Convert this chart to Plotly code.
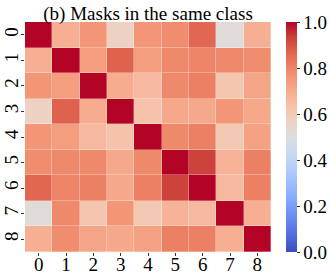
import plotly.graph_objects as go

labels = ["0", "1", "2", "3", "4", "5", "6", "7", "8"]

row0 = [1.00, 0.69, 0.76, 0.57, 0.76, 0.78, 0.86, 0.51, 0.69]
row1 = [0.69, 1.00, 0.74, 0.87, 0.74, 0.79, 0.80, 0.79, 0.78]
row2 = [0.76, 0.74, 1.00, 0.70, 0.66, 0.79, 0.81, 0.62, 0.72]
row3 = [0.57, 0.87, 0.70, 1.00, 0.63, 0.71, 0.71, 0.76, 0.71]
row4 = [0.76, 0.74, 0.66, 0.63, 1.00, 0.79, 0.81, 0.61, 0.73]
row5 = [0.78, 0.79, 0.79, 0.71, 0.79, 1.00, 0.93, 0.68, 0.81]
row6 = [0.86, 0.80, 0.81, 0.71, 0.81, 0.93, 1.00, 0.66, 0.81]
row7 = [0.51, 0.79, 0.62, 0.76, 0.61, 0.68, 0.66, 1.00, 0.69]
row8 = [0.69, 0.78, 0.72, 0.71, 0.73, 0.81, 0.81, 0.69, 1.00]

z = [row0, row1, row2, row3, row4, row5, row6, row7, row8]

cbar_vals = [0, 0.2, 0.4, 0.6, 0.8, 1.0]
cbar_text = ["0.0", "0.2", "0.4", "0.6", "0.8", "1.0"]

coolwarm = [
    [0.0, "rgb(59,76,192)"],
    [0.0625, "rgb(78,104,216)"],
    [0.125, "rgb(98,130,234)"],
    [0.1875, "rgb(119,154,247)"],
    [0.25, "rgb(141,176,254)"],
    [0.3125, "rgb(162,193,255)"],
    [0.375, "rgb(184,208,249)"],
    [0.4375, "rgb(204,217,238)"],
    [0.5, "rgb(221,221,221)"],
    [0.5625, "rgb(236,211,197)"],
    [0.625, "rgb(245,196,173)"],
    [0.6875, "rgb(247,176,148)"],
    [0.75, "rgb(244,154,123)"],
    [0.8125, "rgb(236,127,99)"],
    [0.875, "rgb(222,96,77)"],
    [0.9375, "rgb(203,62,56)"],
    [1.0, "rgb(180,4,38)"],
]

font_family = "Liberation Serif, Times New Roman, serif"

fig = go.Figure(go.Heatmap(
    z=z, x=labels, y=labels,
    colorscale=coolwarm, zmin=0, zmax=1,
    xgap=0.3, ygap=0.3,
    colorbar=dict(
        thickness=11, len=1.0, lenmode="fraction",
        x=1.061, xanchor="left", y=0.5, yanchor="middle",
        outlinewidth=0, xpad=0, ypad=0,
        tickvals=cbar_vals, ticktext=cbar_text,
        ticks="outside", ticklen=3, tickcolor="#333",
        tickfont=dict(family=font_family, size=19, color="black"),
    ),
))

fig.update_layout(
    width=329, height=277,
    margin=dict(l=25, r=58, t=22, b=25, autoexpand=False),
    paper_bgcolor="white", plot_bgcolor="white",
    title=dict(text="(b) Masks in the same class", x=0.45, xanchor="center",
               xref="container", yref="container",
               y=1 - 13 / 277, yanchor="middle",
               font=dict(family=font_family, size=19, color="black")),
    font=dict(family=font_family, size=19, color="black"),
)
fig.update_xaxes(ticks="outside", ticklen=3, tickcolor="#333", showgrid=False,
                 zeroline=False, showline=False, tickmode="array",
                 tickvals=labels, ticktext=labels, ticklabelstandoff=-8,
                 tickfont=dict(family=font_family, size=19))
fig.update_yaxes(autorange="reversed", ticks="outside", ticklen=3, tickcolor="#333",
                 showgrid=False, zeroline=False, showline=False, tickangle=-90,
                 tickmode="array", tickvals=labels, ticktext=labels,
                 ticklabelstandoff=-5,
                 tickfont=dict(family=font_family, size=19))

fig.write_html("out.html", config={"displayModeBar": False},
               post_script="document.body.style.margin='0';document.body.style.overflow='hidden';")
